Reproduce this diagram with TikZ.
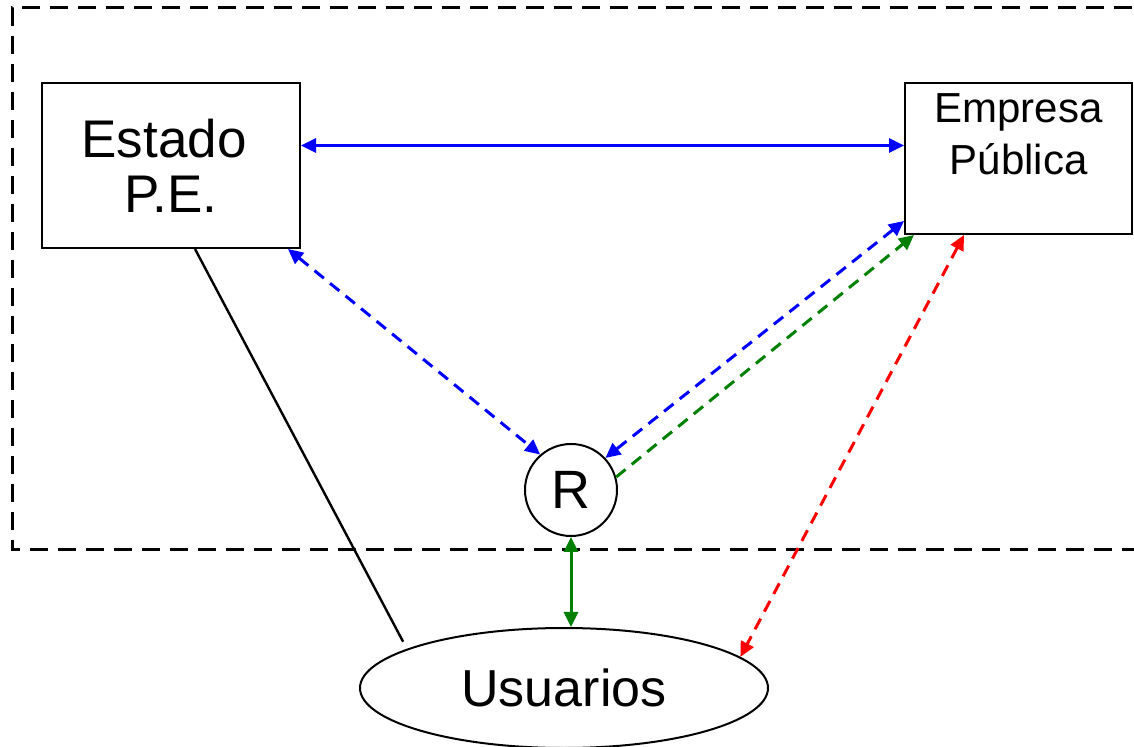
\documentclass[tikz,border=0pt]{standalone}
\usepackage{fontspec}
\setmainfont{Liberation Sans}
\usetikzlibrary{positioning, calc, arrows.meta, shapes.geometric}
\tikzset{
	box/.style={draw, line width=1pt, rectangle, inner sep=0pt},
	link/.style={line width=1.5pt},
	arrow/.style={link, {Triangle[length=7.5pt,width=7pt]}-{Triangle[length=7.5pt,width=7pt]}},
	oneway/.style={link, -{Triangle[length=7.5pt,width=7pt]}},
	dashedlink/.style={dash pattern=on 6pt off 4pt},
}
\definecolor{xblue}{RGB}{0,0,255}
\definecolor{xgreen}{RGB}{0,128,0}
\definecolor{xred}{RGB}{255,0,0}

\begin{document}
\begin{tikzpicture}[x=0.5pt, y=-0.5pt]
	\useasboundingbox (0,0) rectangle (1134,747);
	% frontier of the system
	\draw[line width=1.5pt, dash pattern=on 9pt off 5pt] (1160,8) -- (12,8) -- (12,550) -- (1160,550);

	\node[box, minimum width=129pt, minimum height=82.5pt, align=center,
		font=\fontsize{26.5}{27.5}\selectfont] (estado) at (171,165.5) {Estado\hspace*{7pt}\\P.E.};
	\node[box, minimum width=113.5pt, minimum height=75.5pt] (ep) at (1018.5,158.5) {};
	\node[anchor=north, align=center, inner sep=0pt, yshift=-5.5pt,
		font=\fontsize{21}{26}\selectfont] (eptext) at (ep.north) {Empresa\\Pública};
	\node[draw, line width=1pt, circle, minimum size=46pt, inner sep=0pt,
		font=\fontsize{27}{27}\selectfont] (r) at (571,490) {R};
	\node[draw, line width=1pt, ellipse, minimum width=204pt, minimum height=60pt, inner sep=0pt,
		font=\fontsize{26}{26}\selectfont] (usu) at (564,688) {Usuarios};

	\draw[arrow, xblue] ([yshift=10pt]estado.east) coordinate (a) -- (a -| ep.west);
	\draw[line width=1.2pt, shorten >=4pt] ([xshift=12pt]estado.south) -- (usu.166);
	\draw[arrow, xgreen] (r.south) -- (r.south |- usu.north);
	\draw[arrow, dashedlink, xblue] ([xshift=-6.5pt]estado.south east) -- (r.131);
	\draw[arrow, dashedlink, xblue] ([yshift=7pt]ep.south west) -- (r.43);
	\draw[oneway, dashedlink, xgreen] (r.16) -- ([xshift=5pt]ep.south west);
	\draw[arrow, dashedlink, xred] ([xshift=30pt]ep.south west) -- (usu.10);
\end{tikzpicture}
\end{document}
